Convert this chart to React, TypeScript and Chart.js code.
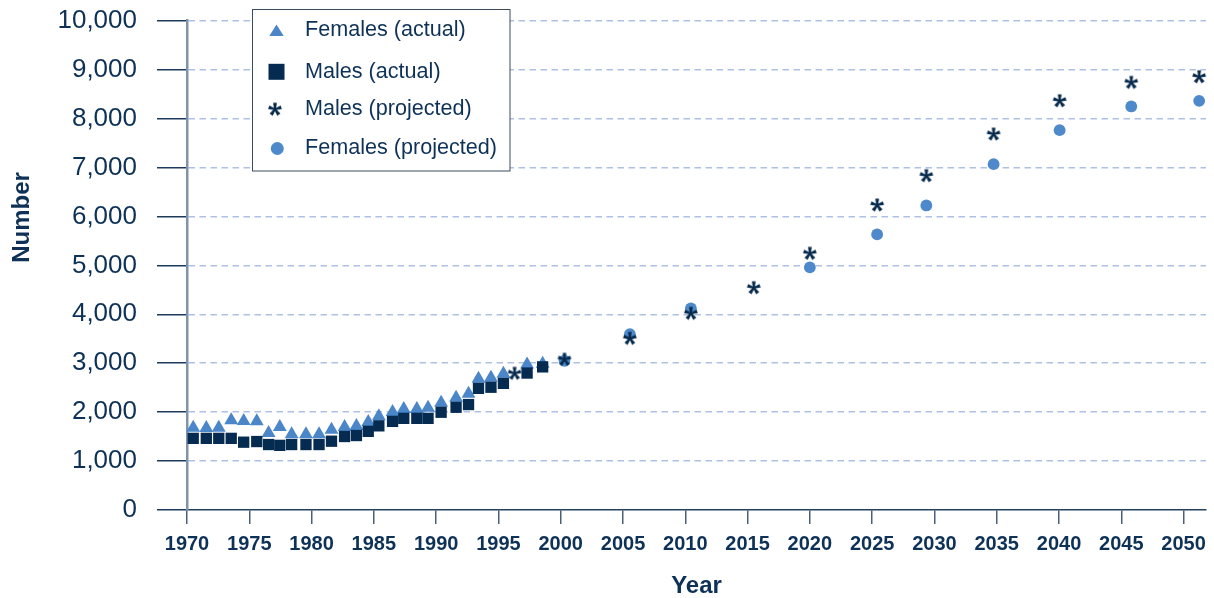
import React, { useEffect, useRef } from 'react';
import { Chart, registerables } from 'chart.js';

Chart.register(...registerables);

const FONT = "'Liberation Sans', Arial, Helvetica, sans-serif";

// ---- data ----
const xTickYears = [1970, 1975, 1980, 1985, 1990, 1995, 2000, 2005, 2010, 2015, 2020, 2025, 2030, 2035, 2040, 2045, 2050];

const actualYears = [
  1970.5, 1971.55, 1972.55, 1973.55, 1974.55, 1975.6, 1976.55, 1977.45, 1978.4, 1979.55,
  1980.6, 1981.6, 1982.65, 1983.6, 1984.55, 1985.4, 1986.5, 1987.4, 1988.45, 1989.35,
  1990.4, 1991.6, 1992.6, 1993.4, 1994.4, 1995.4, 1997.3, 1998.55,
];
const femalesActual = [
  1682, 1676, 1682, 1833, 1818, 1812, 1573, 1696, 1546, 1546,
  1546, 1641, 1696, 1716, 1798, 1916, 2002, 2063, 2063, 2090,
  2192, 2294, 2376, 2682, 2703, 2784, 2976, 2989,
];
const malesActual = [
  1464, 1464, 1464, 1464, 1386, 1399, 1338, 1321, 1338, 1338,
  1338, 1406, 1502, 1522, 1608, 1720, 1811, 1873, 1873, 1873,
  1998, 2100, 2155, 2486, 2509, 2588, 2799, 2925,
];

const malesProjectedYears = [1996.3, 2000.3, 2005.55, 2010.45, 2015.5, 2020.0, 2025.4, 2029.35, 2034.75, 2040.05, 2045.8, 2051.25];
const malesProjected = [2792, 3078, 3507, 4018, 4542, 5244, 6231, 6830, 7681, 8362, 8737, 8852];

const femalesProjectedYears = [2000.3, 2005.55, 2010.45, 2020.0, 2025.4, 2029.35, 2034.75, 2040.05, 2045.8, 2051.25];
const femalesProjected = [3050, 3595, 4120, 4958, 5632, 6224, 7068, 7763, 8247, 8362];

const legendLabels = ['Females (actual)', 'Males (actual)', 'Males (projected)', 'Females (projected)'];

// ---- styles ----
const TRI_COLOR = '#4a86c8';
const CIRCLE_COLOR = '#4e8acb';
const SQUARE_COLOR = '#052b51';
const STAR_COLOR = '#072a4c';
const TEXT_COLOR = '#0e3257';
const GRID_COLOR = '#adc1e4';
const Y_AXIS_COLOR = '#8193a9';
const Y_TICK_COLOR = '#1d3a5a';
const X_AXIS_COLOR = '#23405f';
const X_TICK_COLOR = '#4a6078';

function makeAsterisk(color: string): HTMLCanvasElement {
  const c = document.createElement('canvas');
  c.width = 16;
  c.height = 16;
  const g = c.getContext('2d')!;
  g.fillStyle = color;
  const cx = 8, cy = 8, len = 6.6;
  for (let k = 0; k < 5; k++) {
    const a = (k * 2 * Math.PI) / 5;
    const dx = Math.sin(a), dy = -Math.cos(a);
    const px = -dy, py = dx; // perpendicular
    g.beginPath();
    g.moveTo(cx + px * 0.9, cy + py * 0.9);
    g.lineTo(cx + dx * len + px * 1.9, cy + dy * len + py * 1.9);
    g.lineTo(cx + dx * len - px * 1.9, cy + dy * len - py * 1.9);
    g.lineTo(cx - px * 0.9, cy - py * 0.9);
    g.closePath();
    g.fill();
  }
  g.beginPath();
  g.arc(cx, cy, 1.5, 0, Math.PI * 2);
  g.fill();
  return c;
}

export default function App() {
  const canvasRef = useRef<HTMLCanvasElement | null>(null);

  useEffect(() => {
    if (!canvasRef.current) return;
    const asterisk = makeAsterisk(STAR_COLOR);

    const overlay = {
      id: 'overlay',
      afterDraw(chart: any) {
        const ctx = chart.ctx as CanvasRenderingContext2D;
        // y axis title
        ctx.save();
        ctx.translate(22, 217.5);
        ctx.rotate(-Math.PI / 2);
        ctx.font = `bold 24px ${FONT}`;
        ctx.fillStyle = TEXT_COLOR;
        ctx.textAlign = 'center';
        ctx.textBaseline = 'middle';
        ctx.fillText('Number', 0, 0);
        ctx.restore();

        // legend box
        ctx.save();
        ctx.fillStyle = '#ffffff';
        ctx.fillRect(252.5, 9.5, 257.5, 161.5);
        ctx.strokeStyle = '#3b4a5c';
        ctx.lineWidth = 1;
        ctx.strokeRect(252.5, 9.5, 257.5, 161.5);

        const rows = [30.5, 71.8, 109.3, 148.5];
        const mx = 276.5;
        // triangle
        ctx.fillStyle = TRI_COLOR;
        ctx.beginPath();
        ctx.moveTo(mx, rows[0] - 6);
        ctx.lineTo(mx + 7.2, rows[0] + 5.5);
        ctx.lineTo(mx - 7.2, rows[0] + 5.5);
        ctx.closePath();
        ctx.fill();
        // square
        ctx.fillStyle = SQUARE_COLOR;
        ctx.fillRect(mx - 8, rows[1] - 8, 16, 16);
        // asterisk
        ctx.drawImage(asterisk, mx - 1.5 - 8, rows[2] - 8);
        // circle
        ctx.fillStyle = CIRCLE_COLOR;
        ctx.beginPath();
        ctx.arc(mx + 0.8, rows[3], 6.5, 0, Math.PI * 2);
        ctx.fill();

        ctx.font = `21.6px ${FONT}`;
        ctx.fillStyle = TEXT_COLOR;
        ctx.textAlign = 'left';
        ctx.textBaseline = 'middle';
        legendLabels.forEach((t, i) => ctx.fillText(t, 305, rows[i]));
        ctx.restore();
      },
    };

    const common = { showLine: false, pointBorderWidth: 0, pointHoverBorderWidth: 0, clip: false as any };

    const chart = new Chart(canvasRef.current, {
      type: 'scatter',
      data: {
        datasets: [
          {
            ...common,
            label: legendLabels[2],
            data: malesProjectedYears.map((x, i) => ({ x, y: malesProjected[i] })),
            pointStyle: asterisk as any,
            pointRadius: 7,
            pointHoverRadius: 7,
            backgroundColor: STAR_COLOR,
            borderColor: STAR_COLOR,
          },
          {
            ...common,
            label: legendLabels[3],
            data: femalesProjectedYears.map((x, i) => ({ x, y: femalesProjected[i] })),
            pointStyle: 'circle',
            pointRadius: 5.9,
            pointHoverRadius: 5.9,
            backgroundColor: CIRCLE_COLOR,
            borderColor: CIRCLE_COLOR,
          },
          {
            ...common,
            label: legendLabels[1],
            data: actualYears.map((x, i) => ({ x, y: malesActual[i] })),
            pointStyle: 'rect',
            pointRadius: 8,
            pointHoverRadius: 8,
            backgroundColor: SQUARE_COLOR,
            borderColor: SQUARE_COLOR,
          },
          {
            ...common,
            label: legendLabels[0],
            data: actualYears.map((x, i) => ({ x, y: femalesActual[i] })),
            pointStyle: 'triangle',
            pointRadius: 8,
            pointHoverRadius: 8,
            backgroundColor: TRI_COLOR,
            borderColor: TRI_COLOR,
          },
        ],
      },
      options: {
        animation: false,
        responsive: false,
        devicePixelRatio: 1,
        layout: { padding: { left: 0, right: 4, top: 20.7, bottom: 0 } },
        plugins: {
          legend: { display: false },
          tooltip: { enabled: false },
        },
        events: [],
        scales: {
          x: {
            type: 'linear',
            min: 1970,
            max: 2051.8,
            afterBuildTicks: (s: any) => {
              s.ticks = xTickYears.map((v) => ({ value: v }));
            },
            afterFit: (s: any) => {
              s.height = 88;
              s.paddingLeft = 0;
              s.paddingRight = 0;
            },
            ticks: {
              autoSkip: false,
              maxRotation: 0,
              padding: 8,
              color: TEXT_COLOR,
              font: { family: FONT, size: 20, weight: 'bold' },
              callback: (v: any) => String(v),
            },
            grid: {
              drawOnChartArea: false,
              drawTicks: true,
              tickLength: 14,
              tickColor: X_TICK_COLOR,
              tickWidth: 1.5,
              color: X_TICK_COLOR,
              lineWidth: 1.5,
            },
            border: { display: true, color: X_AXIS_COLOR, width: 1.5 },
            title: {
              display: true,
              text: 'Year',
              color: TEXT_COLOR,
              font: { family: FONT, size: 24, weight: 'bold', lineHeight: 1 },
              padding: 0,
            },
          },
          y: {
            type: 'linear',
            min: 0,
            max: 10000,
            afterFit: (s: any) => {
              s.width = 187;
              s.paddingTop = 0;
              s.paddingBottom = 0;
            },
            ticks: {
              stepSize: 1000,
              padding: 20,
              color: TEXT_COLOR,
              font: { family: FONT, size: 26 },
              callback: (v: any) => Number(v).toLocaleString('en-US'),
            },
            grid: {
              color: (c: any) => (c.tick && c.tick.value === 0 ? 'rgba(0,0,0,0)' : GRID_COLOR),
              lineWidth: 1.5,
              tickLength: 30,
              tickColor: Y_TICK_COLOR,
              tickWidth: 1.5,
            },
            border: { display: true, color: Y_AXIS_COLOR, width: 2.5, dash: [6.5, 4.5] },
          },
        },
      },
      plugins: [overlay],
    } as any);

    return () => chart.destroy();
  }, []);

  return (
    <div style={{ position: 'absolute', left: 0, top: 0, width: 1214, height: 598, background: '#ffffff' }}>
      <canvas ref={canvasRef} width={1214} height={598} />
    </div>
  );
}
